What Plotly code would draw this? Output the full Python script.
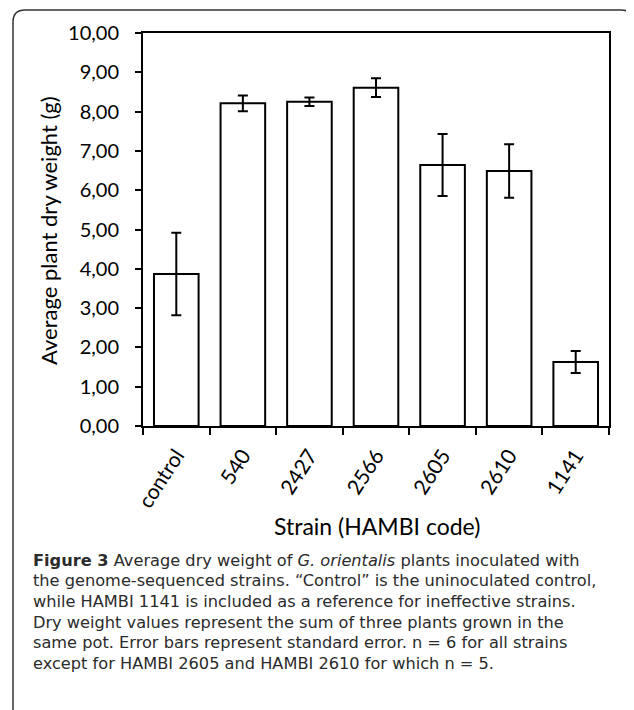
import plotly.graph_objects as go

strains = ["control", "540", "2427", "2566", "2605", "2610", "1141"]
mean_weight = [3.87, 8.21, 8.25, 8.61, 6.64, 6.49, 1.63]
std_error = [1.05, 0.20, 0.11, 0.24, 0.79, 0.68, 0.28]
y_ticks = [0, 1, 2, 3, 4, 5, 6, 7, 8, 9, 10]

caption_lines = [
    "<b>Figure 3</b> Average dry weight of <i>G. orientalis</i> plants inoculated with",
    "the genome-sequenced strains. \u201cControl\u201d is the uninoculated control,",
    "while HAMBI 1141 is included as a reference for ineffective strains.",
    "Dry weight values represent the sum of three plants grown in the",
    "same pot. Error bars represent standard error. n = 6 for all strains",
    "except for HAMBI 2605 and HAMBI 2610 for which n = 5.",
]

OFF = 8  # page body margin
W, H = 634 - OFF, 710 - OFF
L, T = 143 - OFF, 33 - OFF
R = W - (609 - OFF)
B = H - (426 - OFF)
PW, PH = W - L - R, H - T - B

def px(x):
    return (x - OFF - L) / PW

def py(y):
    return (T + PH - (y - OFF)) / PH

CHART_FONT = "Lato"
CAP_FONT = "DejaVu Sans"

fig = go.Figure()
fig.add_trace(go.Bar(
    x=strains, y=mean_weight,
    marker=dict(color="white", line=dict(color="black", width=2)),
    error_y=dict(type="data", array=std_error, visible=True,
                 color="black", thickness=2, width=5),
    width=0.67,
))

fig.update_layout(
    width=W, height=H,
    margin=dict(l=L, r=R, t=T, b=B, autoexpand=False),
    paper_bgcolor="white", plot_bgcolor="white",
    separators=",.",
    showlegend=False,
    font=dict(family=CHART_FONT, color="black", size=20),
)
fig.update_xaxes(
    type="category", tickangle=-57, tickson="boundaries",
    ticks="outside", ticklen=7, tickwidth=2, tickcolor="black",
    showline=True, linecolor="black", linewidth=2, mirror=True,
    showgrid=False, tickfont=dict(size=21, family=CHART_FONT),
    ticklabelstandoff=7,
)
fig.update_yaxes(
    range=[0, 10], tickvals=y_ticks, tickformat=".2f",
    ticks="outside", ticklen=6, tickwidth=2, tickcolor="black",
    showline=True, linecolor="black", linewidth=2, mirror=True,
    showgrid=False, zeroline=False, tickfont=dict(size=20, family=CHART_FONT),
    ticklabelstandoff=12,
)

# axis titles
fig.add_annotation(text="Average plant dry weight (g)", textangle=-90,
                   xref="paper", yref="paper", x=px(49), y=py(231),
                   showarrow=False, font=dict(size=22, family=CHART_FONT),
                   xanchor="center", yanchor="middle")
fig.add_annotation(text="Strain (HAMBI code)",
                   xref="paper", yref="paper", x=px(377), y=py(526),
                   showarrow=False, font=dict(size=23, family=CHART_FONT),
                   xanchor="center", yanchor="middle")

# caption
for i, line in enumerate(caption_lines):
    fig.add_annotation(text=line, xref="paper", yref="paper",
                       x=px(32), y=py(560 + i * 20.7),
                       showarrow=False, xanchor="left", yanchor="middle",
                       borderpad=0,
                       font=dict(size=16.2, family=CAP_FONT, color="#2b2b2b"))

# rounded figure frame
r = 12
x0, x1, y0, y1 = 13, 633, 10, 712
path = (f"M {px(x0)},{py(y1)} L {px(x0)},{py(y0 + r)} "
        f"Q {px(x0)},{py(y0)} {px(x0 + r)},{py(y0)} "
        f"L {px(x1 - r)},{py(y0)} Q {px(x1)},{py(y0)} {px(x1)},{py(y0 + r)} "
        f"L {px(x1)},{py(y1)}")
fig.add_shape(type="path", path=path, xref="paper", yref="paper",
              line=dict(color="#333", width=1.5), layer="above")

fig.write_html("out.html")
